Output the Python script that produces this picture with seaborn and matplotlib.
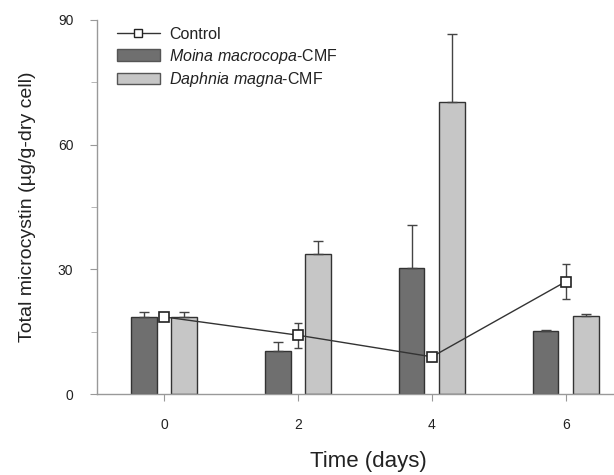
import numpy as np
import pandas as pd
import matplotlib
matplotlib.use("Agg")
import matplotlib.pyplot as plt
import seaborn as sns
from matplotlib.lines import Line2D
from matplotlib.patches import Patch

# data
days = [0, 2, 4, 6]
moina = [18.6, 10.3, 30.3, 15.2]
moina_err = [1.2, 2.3, 10.3, 0.3]
daphnia = [18.6, 33.8, 70.2, 18.8]
daphnia_err = [1.2, 3.1, 16.5, 0.6]
control = [18.6, 14.2, 9.0, 27.1]
control_err = [0.8, 3.0, 1.0, 4.2]

groups = ["Moina", "Daphnia"]
colors = {"Moina": "#6f6f6f", "Daphnia": "#c6c6c6"}

df = pd.DataFrame({
    "day": days * 2,
    "value": moina + daphnia,
    "group": ["Moina"] * len(days) + ["Daphnia"] * len(days),
})

sns.set_style("ticks")
plt.rcParams["font.family"] = ["Liberation Sans", "DejaVu Sans"]
plt.rcParams["mathtext.fontset"] = "custom"
plt.rcParams["mathtext.it"] = "Liberation Sans:italic"
plt.rcParams["mathtext.rm"] = "Liberation Sans"

fig = plt.figure(figsize=(6.14, 4.75), dpi=100)
ax = fig.add_axes([0.158, 0.17, 0.84, 0.788])

sns.barplot(data=df, x="day", y="value", hue="group", hue_order=groups,
            palette=colors, native_scale=True, width=0.6, gap=0.37,
            edgecolor="#333333", linewidth=1.0, legend=False, ax=ax)

# error bars on bars (upper side only)
d = np.array(days, dtype=float)
ax.errorbar(d - 0.3, moina, yerr=[np.zeros(4), moina_err], fmt="none",
            ecolor="#444444", elinewidth=1, capsize=3.5, zorder=3)
ax.errorbar(d + 0.3, daphnia, yerr=[np.zeros(4), daphnia_err], fmt="none",
            ecolor="#444444", elinewidth=1, capsize=3.5, zorder=3)

# control line
ax.errorbar(d, control, yerr=control_err, fmt="none", ecolor="#444444",
            elinewidth=1, capsize=3, zorder=4)
sns.lineplot(x=days, y=control, color="#333333", linewidth=1.0, marker="s",
             markersize=7.5, markerfacecolor="white", markeredgecolor="#222222",
             markeredgewidth=1.2, zorder=5, ax=ax)

ax.set_xlim(-1, 6.7)
ax.set_ylim(0, 90)
ax.set_xticks(days)
ax.set_xticklabels([str(x) for x in days])
ax.set_yticks([0, 30, 60, 90])
ax.set_yticks([15, 45, 75], minor=True)
ax.tick_params(axis="both", labelsize=10, color="#999999", length=5,
               pad=12, labelcolor="#222222")
ax.tick_params(axis="y", which="minor", length=4, color="#aaaaaa")
for s in ["top", "right"]:
    ax.spines[s].set_visible(False)
for s in ["left", "bottom"]:
    ax.spines[s].set_color("#999999")
    ax.spines[s].set_linewidth(1.0)

ax.set_xlabel("Time (days)", fontsize=16, color="#222222")
ax.xaxis.set_label_coords(0.527, -0.152)
ax.set_ylabel("Total microcystin (\u00b5g/g-dry cell)", fontsize=14,
              labelpad=16, color="#222222")

handles = [
    Line2D([0], [0], color="#333333", lw=1, marker="s", markersize=6,
           markerfacecolor="white", markeredgecolor="#222222"),
    Patch(facecolor=colors["Moina"], edgecolor="#555555"),
    Patch(facecolor=colors["Daphnia"], edgecolor="#555555"),
]
labels = ["Control", r"$\it{Moina\ macrocopa}$-CMF", r"$\it{Daphnia\ magna}$-CMF"]
ax.legend(handles, labels, loc="upper left", bbox_to_anchor=(0.01, 1.02),
          frameon=False, fontsize=11.5, handlelength=2.7, handleheight=0.7,
          labelspacing=0.3, handletextpad=0.6, labelcolor="#222222")

fig.savefig("out.png", dpi=100)
